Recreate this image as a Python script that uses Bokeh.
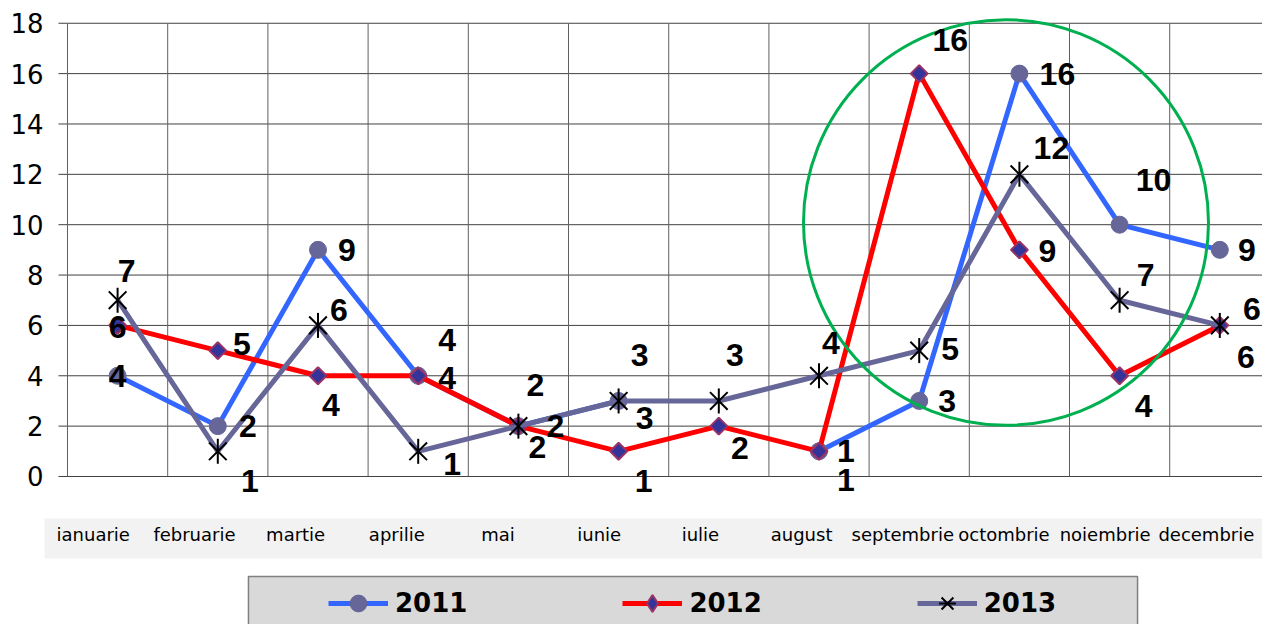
import numpy as np
from bokeh.plotting import figure
from bokeh.models import (Range1d, LinearAxis, FixedTicker, Legend, LegendItem,
                          ColumnDataSource)
from bokeh.core.properties import value
from bokeh.embed import file_html
from bokeh.resources import INLINE

# ---------------- data ----------------
months = ["ianuarie", "februarie", "martie", "aprilie", "mai", "iunie",
          "iulie", "august", "septembrie", "octombrie", "noiembrie", "decembrie"]
v2011 = [4, 2, 9, 4, 2, 3, None, 1, 3, 16, 10, 9]
v2012 = [6, 5, 4, 4, 2, 1, 2, 1, 16, 9, 4, 6]
v2013 = [7, 1, 6, 1, 2, 3, 3, 4, 5, 12, 7, 6]
y_ticks = [0, 2, 4, 6, 8, 10, 12, 14, 16, 18]
series_names = ["2011", "2012", "2013"]

# data-label offsets in screen px (dx, dy) relative to each point
off2011 = [(0, 0), (30, 0), (29, 0), (29, 2), (37, 0), (26, 17), (0, 0),
           (27, 0), (28, 0), (38, 0), (34, -45), (27, 0)]
off2012 = [(0, 2), (24, -7), (13, 29), (29, -36), (19, 21), (25, 30), (21, 22),
           (27, 29), (31, -34), (28, 1), (24, 30), (26, 32)]
off2013 = [(9, -29), (32, 30), (21, -15), (34, 13), (17, -41), (21, -46),
           (16, -46), (12, -33), (31, -2), (32, -26), (26, -25), (32, -16)]

# ---------------- figure ----------------
p = figure(width=1262, height=624, output_backend="svg", toolbar_location=None,
           x_range=Range1d(-0.2295, 11.926), y_range=Range1d(-5.878, 18.427),
           x_axis_type=None, y_axis_type=None,
           min_border_left=44, min_border_right=0, min_border_top=12,
           min_border_bottom=0)
p.outline_line_color = None
p.background_fill_color = "white"
p.border_fill_color = "white"

yaxis = LinearAxis(ticker=FixedTicker(ticks=y_ticks), axis_line_color=None,
                   major_tick_line_color=None, minor_tick_line_color=None,
                   major_tick_out=0, major_tick_in=0,
                   major_label_text_font="DejaVu Sans",
                   major_label_text_font_size="26px",
                   major_label_text_color="black",
                   major_label_standoff=1)
p.add_layout(yaxis, "left")

x = np.arange(len(months)) + 0.5

# category band
p.quad(left=-0.3, right=12.5, top=-1.668, bottom=-3.257,
       fill_color="#f2f2f2", line_color=None)

# grid lines
p.segment(x0=-0.0898, x1=12.5, y0=y_ticks, y1=y_ticks,
          line_color="#404040", line_width=1)
vx = list(range(len(months)))
p.segment(x0=vx, x1=vx, y0=0, y1=max(y_ticks), line_color="#606060", line_width=1)

def arr(v):
    return np.array([np.nan if a is None else a for a in v], dtype=float)

y11, y12, y13 = arr(v2011), arr(v2012), arr(v2013)

l11 = p.line(x, y11, line_color="#3366ff", line_width=5, line_join="round")
m11 = p.scatter(x, y11, marker="circle", size=17, fill_color="#666699",
                line_color="#666699")
l12 = p.line(x, y12, line_color="#ff0000", line_width=5, line_join="round")
# diamond (used by the legend), covered by the rotated square in the plot
m12d = p.scatter(x, y12, marker="diamond", size=16,
                 fill_color="#333399", line_color="#993366", line_width=2)
m12 = p.scatter(x, y12, marker="square", angle=np.pi / 4, size=12,
                fill_color="#333399", line_color="#993366", line_width=2)
l13 = p.line(x, y13, line_color="#666699", line_width=5, line_join="round")
m13a = p.scatter(x, y13, marker="x", size=25, line_color="black", line_width=2)
m13b = p.scatter(x, y13, marker="dash", angle=np.pi / 2, size=25,
                 line_color="black", line_width=2)

# highlight circle
p.ellipse(x=9.366, y=10.087, width=4.042, height=16.12, fill_color=None,
          line_color="#00b050", line_width=3)

# data labels
for vals, offs in ((v2011, off2011), (v2012, off2012), (v2013, off2013)):
    xs, ys, ts, dxs, dys = [], [], [], [], []
    for i, v in enumerate(vals):
        if v is None:
            continue
        xs.append(x[i]); ys.append(v); ts.append(str(v))
        dxs.append(offs[i][0]); dys.append(offs[i][1])
    src = ColumnDataSource(dict(x=xs, y=ys, t=ts, dx=dxs, dy=dys))
    p.text(x="x", y="y", text="t", x_offset="dx", y_offset="dy", source=src,
           text_font=value("Liberation Sans"), text_font_style="bold",
           text_font_size="32px", text_color="black",
           text_align="center", text_baseline="alphabetic")

# month labels on the band
p.extra_x_ranges = {"band": Range1d(0.0181, 12.055)}
p.text(x=list(x), y=[-2.29] * len(months), text=months, x_range_name="band",
       text_font=value("DejaVu Sans"), text_font_size="18px", text_color="black",
       text_align="center", text_baseline="alphabetic")

# legend box
p.quad(left=1.806, right=10.679, top=-3.971, bottom=-7,
       fill_color="#d9d9d9", line_color="#808080", line_width=1.5)

legend = Legend(items=[LegendItem(label=series_names[0], renderers=[l11, m11]),
                       LegendItem(label=series_names[1], renderers=[l12, m12d]),
                       LegendItem(label=series_names[2], renderers=[l13, m13a, m13b])],
                orientation="horizontal", location=(284, 0),
                glyph_width=60, glyph_height=42, label_standoff=7,
                label_width=72, spacing=155, padding=0, margin=0,
                border_line_color=None, background_fill_alpha=0,
                label_text_font="DejaVu Sans", label_text_font_style="bold",
                label_text_font_size="26px", label_text_color="black")
p.add_layout(legend)

open("out.html", "w").write(file_html(p, INLINE))
